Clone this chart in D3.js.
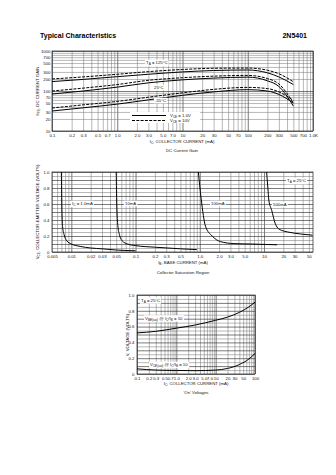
<!DOCTYPE html>
<html><head><meta charset="utf-8">
<script src="https://cdn.jsdelivr.net/npm/d3@7"></script>
<style>
body{margin:0;background:#fff;}
svg{display:block;font-family:"Liberation Sans",Arial,sans-serif;}
</style></head><body>
<svg id="c" width="336" height="475"></svg>
<script>
// ---------- Chart 1: DC Current Gain ----------
const gainIc = [0.1, 0.3, 1, 3, 10, 30, 100, 200, 300, 500];
const gain125Vce10 = [200, 225, 262, 305, 345, 370, 375, 330, 270, 170];
const gain125Vce1 = [172, 195, 228, 262, 300, 325, 335, 285, 225, 145];
const gain25Vce10 = [100, 118, 145, 185, 215, 235, 245, 205, 150, 50];
const gain25Vce1 = [84, 100, 125, 160, 190, 210, 222, 180, 130, 42];
const gainM55Vce10 = [37.6, 45, 55, 70, 90, 110, 123, 115, 95, 58];
const gainM55Vce1 = [31.6, 38, 47, 60, 78, 95, 108, 100, 82, 50];
const gainXTicks = [0.1,0.2,0.3,0.5,0.7,1,2,3,5,7,10,20,30,50,70,100,200,300,500,700,1000];
const gainXLabels = ["0.1","0.2","0.3","0.5","0.7","1.0","2.0","3.0","5.0","7.0","10","20","30","50","70","100","200","300","500","700","1.0K"];
const gainYTicks = [10,20,30,50,70,100,200,300,500,700,1000];
const gainYLabels = ["10","20","30","50","70","100","200","300","500","700","1000"];

// ---------- Chart 2: Collector Saturation Region ----------
const satIb1 = [0.0070, 0.0071, 0.0073, 0.0077, 0.0085, 0.010, 0.0137, 0.02, 0.03, 0.05, 0.1];
const satVce1 = [1.0, 0.6, 0.32, 0.22, 0.14, 0.10, 0.07, 0.05, 0.04, 0.025, 0.015];
const satIb2 = [0.050, 0.051, 0.053, 0.056, 0.062, 0.075, 0.1, 0.2, 0.5, 0.9];
const satVce2 = [1.0, 0.6, 0.33, 0.22, 0.14, 0.10, 0.08, 0.06, 0.04, 0.03];
const satIb3 = [0.95, 1.05, 1.23, 1.56, 2.1, 3.4, 6.2, 16];
const satVce3 = [1.0, 0.67, 0.32, 0.2, 0.13, 0.105, 0.1, 0.09];
const satIb4 = [11.0, 11.5, 11.9, 13.2, 14.9, 16.4, 18.9, 23.5, 37.5, 57];
const satVce4 = [1.0, 0.8, 0.65, 0.52, 0.36, 0.3, 0.27, 0.25, 0.225, 0.21];
const satXTicks = [0.005,0.01,0.02,0.03,0.05,0.1,0.2,0.3,0.5,1,2,3,5,10,20,30,50];
const satXLabels = ["0.005","0.01","0.02","0.03","0.05","0.1","0.2","0.3","0.5","1.0","2.0","3.0","5.0","10","20","30","50"];
const satYTicks = [0,0.2,0.4,0.6,0.8,1.0];
const satYLabels = ["0","0.2","0.4","0.6","0.8","1.0"];

// ---------- Chart 3: 'On' Voltages ----------
const onIc = [0.1, 0.3, 1, 3, 10, 20, 40, 70, 100];
const onVbeSat = [0.52, 0.54, 0.58, 0.62, 0.68, 0.72, 0.78, 0.85, 0.91];
const onVceSat = [0.065, 0.05, 0.045, 0.042, 0.05, 0.07, 0.12, 0.19, 0.26];
const onXTicks = [0.1,0.2,0.3,0.5,0.7,1,2,3,5,7,10,20,30,50,100];
const onXLabels = ["0.1","0.2","0.3","0.5","0.7","1.0","2.0","3.0","5.0","7.0","10","20","30","50","100"];
const onYTicks = [0,0.2,0.4,0.6,0.8,1.0];
const onYLabels = ["0","0.2","0.4","0.6","0.8","1.0"];

const svg = d3.select("#c");
const FS = 4.3;

// header
svg.append("text").attr("x",40).attr("y",37.5).attr("font-size",7).attr("font-weight","bold").text("Typical Characteristics");
svg.append("text").attr("x",307).attr("y",37.5).attr("font-size",7).attr("font-weight","bold").attr("text-anchor","end").text("2N5401");

function logMinor(lo, hi){
  const out=[]; let p=Math.floor(Math.log10(lo));
  for(;Math.pow(10,p)<=hi*1.0001;p++){ for(let k=1;k<10;k++){const v=k*Math.pow(10,p); if(v>=lo*0.9999&&v<=hi*1.0001) out.push(v);} }
  return out;
}
function linMinor(lo,hi,step){const o=[];for(let v=lo;v<=hi+1e-9;v+=step)o.push(+v.toFixed(4));return o;}

function richText(g, x, y, parts, anchor){
  const t = g.append("text").attr("x",x).attr("y",y).attr("font-size",FS).attr("text-anchor",anchor||"start").attr("fill","#111");
  let down=false;
  parts.forEach(p=>{
    if(typeof p==="string"){
      const s=t.append("tspan").text(p);
      if(down){ s.attr("dy",-1); down=false; }
    } else {
      t.append("tspan").attr("dy",down?0:1).attr("font-size",FS*0.72).text(p.sub);
      down=true;
    }
  });
  return t;
}
function boxed(g,x,y,parts){
  const t = richText(g,x,y,parts);
  const b = t.node().getBBox();
  g.insert("rect",()=>t.node()).attr("x",b.x-1).attr("y",b.y-0.3).attr("width",b.width+2).attr("height",b.height+0.6).attr("fill","#fff");
  return t;
}

function frame(g, x, y, xGrid, yGrid, xMajor, yMajor, x0,x1,y0,y1){
  const grid = g.append("g");
  grid.append("g").attr("transform",`translate(0,${y0})`)
    .call(d3.axisBottom(x).tickValues(xGrid).tickSize(-(y0-y1)).tickFormat(""))
    .call(s=>s.select(".domain").remove())
    .call(s=>s.selectAll("line").attr("stroke",d=>xMajor(d)?"#333":"#707070").attr("stroke-width",d=>xMajor(d)?0.65:0.5));
  grid.append("g").attr("transform",`translate(${x0},0)`)
    .call(d3.axisLeft(y).tickValues(yGrid).tickSize(-(x1-x0)).tickFormat(""))
    .call(s=>s.select(".domain").remove())
    .call(s=>s.selectAll("line").attr("stroke",d=>yMajor(d)?"#333":"#707070").attr("stroke-width",d=>yMajor(d)?0.65:0.5));
  g.append("rect").attr("x",x0).attr("y",y1).attr("width",x1-x0).attr("height",y0-y1).attr("fill","none").attr("stroke","#222").attr("stroke-width",0.7);
}
function axes(g,x,y,xt,xl,yt,yl,x0,y0,xOff,yOff){
  g.append("g").attr("transform",`translate(0,${y0+xOff})`)
    .call(d3.axisBottom(x).tickValues(xt).tickSize(0).tickPadding(0).tickFormat((d,i)=>xl[i]))
    .call(s=>s.select(".domain").remove())
    .call(s=>s.selectAll("text").attr("font-size",FS).attr("font-family","Liberation Sans, Arial").attr("fill","#111").attr("dy","0.71em"));
  g.append("g").attr("transform",`translate(${x0-yOff},0)`)
    .call(d3.axisLeft(y).tickValues(yt).tickSize(0).tickPadding(0).tickFormat((d,i)=>yl[i]))
    .call(s=>s.select(".domain").remove())
    .call(s=>s.selectAll("text").attr("font-size",FS).attr("font-family","Liberation Sans, Arial").attr("fill","#111"));
}
const isDecade = d=>Math.abs(Math.log10(d)-Math.round(Math.log10(d)))<1e-6;

// ===== Chart 1 =====
{
  const x0=52,x1=313,y0=131,y1=51;
  const x=d3.scaleLog().domain([0.1,1000]).range([x0,x1]);
  const y=d3.scaleLog().domain([10,1000]).range([y0,y1]);
  const g=svg.append("g");
  frame(g,x,y,logMinor(0.1,1000),logMinor(10,1000),isDecade,isDecade,x0,x1,y0,y1);
  axes(g,x,y,gainXTicks,gainXLabels,gainYTicks,gainYLabels,x0,y0,2.5,1.5);
  const line=d3.line().x(d=>x(d[0])).y(d=>y(d[1])).curve(d3.curveMonotoneX);
  const series=[[gain125Vce10,true],[gain125Vce1,false],[gain25Vce10,true],[gain25Vce1,false],[gainM55Vce10,true],[gainM55Vce1,false]];
  series.forEach(([vals,dash])=>{
    g.append("path").attr("d",line(gainIc.map((c,i)=>[c,vals[i]]))).attr("fill","none").attr("stroke","#000").attr("stroke-width",1).attr("stroke-dasharray",dash?"3,1.3":null);
  });
  boxed(g,146,64,["T",{sub:"A"}," = 125°C"]);
  boxed(g,154,89,["25°C"]);
  boxed(g,155,102,["-55°C"]);
  // legend
  const lg=g.append("g");
  lg.append("rect").attr("x",130).attr("y",112).attr("width",70).attr("height",11).attr("fill","#fff");
  lg.append("line").attr("x1",132).attr("x2",166).attr("y1",115.5).attr("y2",115.5).attr("stroke","#000").attr("stroke-width",1);
  lg.append("line").attr("x1",132).attr("x2",166).attr("y1",120.5).attr("y2",120.5).attr("stroke","#000").attr("stroke-width",1).attr("stroke-dasharray","3,1.3");
  richText(lg,170,117,["V",{sub:"CE"}," = 1.0V"]);
  richText(lg,170,122,["V",{sub:"CE"}," = 10V"]);
  richText(g,182,142.5,["I",{sub:"C"},", COLLECTOR CURRENT (mA)"],"middle");
  g.append("text").attr("x",182).attr("y",151.5).attr("font-size",FS).attr("text-anchor","middle").attr("fill","#111").text("DC Current Gain");
  const yt=richText(g,0,0,["h",{sub:"FE"},", DC CURRENT GAIN"],"middle");
  yt.attr("transform","translate(38.5,91) rotate(-90)");
}

// ===== Chart 2 =====
{
  const x0=52,x1=313,y0=252,y1=172;
  const x=d3.scaleLog().domain([0.005,58]).range([x0,x1]);
  const y=d3.scaleLinear().domain([0,1]).range([y0,y1]);
  const g=svg.append("g");
  frame(g,x,y,logMinor(0.005,58),linMinor(0,1,0.05),isDecade,d=>Math.abs(d*10-Math.round(d*10))<1e-6,x0,x1,y0,y1);
  axes(g,x,y,satXTicks,satXLabels,satYTicks,satYLabels,x0,y0,2.5,2.5);
  const line=d3.line().x(d=>x(d[0])).y(d=>y(d[1])).curve(d3.curveMonotoneX);
  [[satIb1,satVce1],[satIb2,satVce2],[satIb3,satVce3],[satIb4,satVce4]].forEach(([xs,ys])=>{
    g.append("path").attr("d",line(xs.map((c,i)=>[c,ys[i]]))).attr("fill","none").attr("stroke","#000").attr("stroke-width",1);
  });
  boxed(g,72,205,["I",{sub:"C"}," = 1.0mA"]);
  boxed(g,125,205,["10mA"]);
  boxed(g,211,205,["100mA"]);
  boxed(g,273,206,["500mA"]);
  boxed(g,287,182,["T",{sub:"A"}," = 25°C"]);
  richText(g,183,263.5,["I",{sub:"B"},", BASE CURRENT (mA)"],"middle");
  g.append("text").attr("x",183).attr("y",273.5).attr("font-size",FS).attr("text-anchor","middle").attr("fill","#111").text("Collector Saturation Region");
  const yt=richText(g,0,0,["V",{sub:"CE"},", COLLECTOR-EMITTER VOLTAGE (VOLTS)"],"middle");
  yt.attr("transform","translate(38.5,212) rotate(-90)");
}

// ===== Chart 3 =====
{
  const x0=137,x1=255,y0=374,y1=295;
  const x=d3.scaleLog().domain([0.1,100]).range([x0,x1]);
  const y=d3.scaleLinear().domain([0,1]).range([y0,y1]);
  const g=svg.append("g");
  frame(g,x,y,logMinor(0.1,100),linMinor(0,1,0.05),isDecade,d=>Math.abs(d*10-Math.round(d*10))<1e-6,x0,x1,y0,y1);
  axes(g,x,y,onXTicks,onXLabels,onYTicks,onYLabels,x0,y0,2.5,2.5);
  const line=d3.line().x(d=>x(d[0])).y(d=>y(d[1])).curve(d3.curveMonotoneX);
  [onVbeSat,onVceSat].forEach(vals=>{
    g.append("path").attr("d",line(onIc.map((c,i)=>[c,vals[i]]))).attr("fill","none").attr("stroke","#000").attr("stroke-width",1);
  });
  boxed(g,141,301.5,["T",{sub:"A"}," = 25°C"]);
  boxed(g,145,319.5,["V",{sub:"BE(sat)"}," @ I",{sub:"C"},"/I",{sub:"B"}," = 10"]);
  boxed(g,150,366,["V",{sub:"CE(sat)"}," @ I",{sub:"C"},"/I",{sub:"B"}," = 10"]);
  richText(g,196,385,["I",{sub:"C"},", COLLECTOR CURRENT (mA)"],"middle");
  g.append("text").attr("x",196).attr("y",394).attr("font-size",FS).attr("text-anchor","middle").attr("fill","#111").text("'On' Voltages");
  const yt=richText(g,0,0,["V, VOLTAGE (VOLTS)"],"middle");
  yt.attr("transform","translate(129,335) rotate(-90)");
}
</script></body></html>
